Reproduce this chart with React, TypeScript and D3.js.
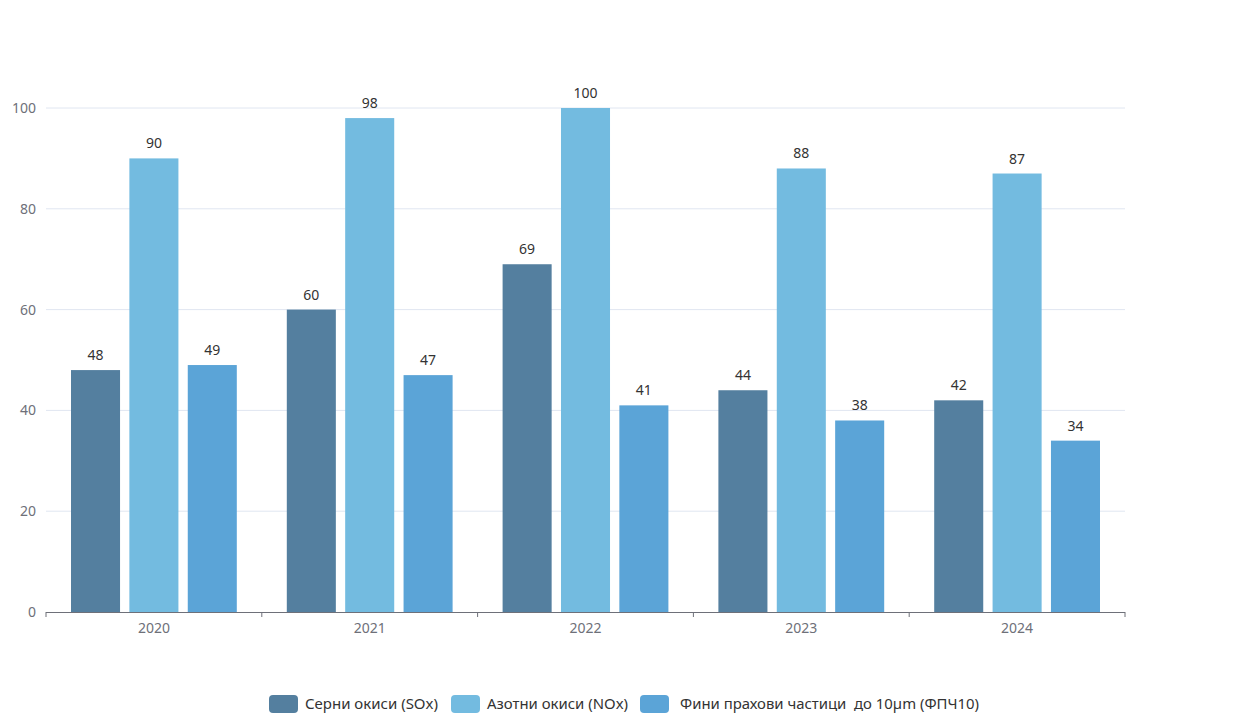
import React from 'react';
import * as d3 from 'd3';

const years = ['2020', '2021', '2022', '2023', '2024'];
const seriesNames = ['Серни окиси (SOx)', 'Азотни окиси (NOx)', 'Фини прахови частици  до 10µm (ФПЧ10)'];
const soxValues = [48, 60, 69, 44, 42];
const noxValues = [90, 98, 100, 88, 87];
const pmValues = [49, 47, 41, 38, 34];
const yTicks = [0, 20, 40, 60, 80, 100];
const colors = ['#547f9f', '#73bbe0', '#5ba4d7'];

const W = 1249;
const H = 720;
const margin = { top: 108, right: 124, bottom: 108, left: 46 };

const App: React.FC = () => {
  const innerW = W - margin.left - margin.right;
  const innerH = H - margin.top - margin.bottom;
  const series = [soxValues, noxValues, pmValues];

  const x0 = d3.scaleBand().domain(years).range([0, innerW]);
  const bw = x0.bandwidth();
  const x1 = d3.scaleBand<number>().domain([0, 1, 2]).range([25, bw - 25]).paddingInner(0.16);
  const y = d3.scaleLinear().domain([0, 100]).range([innerH, 0]);

  const font = 'Microsoft YaHei, "Noto Sans", sans-serif';

  // legend layout: icon x, text offset and text width per item
  const legendX = [269, 451, 640];
  const legendTextOffset = [36, 36, 40];
  const legendTextWidth = [133, 141, 299];

  return (
    <svg width={W} height={H} style={{ display: 'block', position: 'absolute', left: 0, top: 0 }} fontFamily={font}>
      <rect width={W} height={H} fill="#fff" />
      <g transform={`translate(${margin.left},${margin.top})`}>
        {yTicks.map(t => (
          <g key={t}>
            {t !== 0 && <line x1={0} x2={innerW} y1={y(t)} y2={y(t)} stroke="#e0e6f1" />}
            <text x={-10} y={y(t)} dy="0.35em" textAnchor="end" fontSize={14} fill="#6e7079">{t}</text>
          </g>
        ))}
        {years.map((yr, i) => (
          <g key={yr} transform={`translate(${x0(yr)},0)`}>
            {series.map((vals, s) => (
              <g key={s}>
                <rect x={x1(s)} y={y(vals[i])} width={x1.bandwidth()} height={innerH - y(vals[i])} fill={colors[s]} />
                <text x={(x1(s) as number) + x1.bandwidth() / 2} y={y(vals[i]) - 10} textAnchor="middle" fontSize={14} fill="#333">{vals[i]}</text>
              </g>
            ))}
            <text x={bw / 2} y={innerH + 21} textAnchor="middle" fontSize={14} fill="#6e7079">{yr}</text>
          </g>
        ))}
        <line x1={0} x2={innerW} y1={innerH + 0.5} y2={innerH + 0.5} stroke="#6e7079" />
        {d3.range(years.length + 1).map(i => (
          <line key={i} x1={i * bw} x2={i * bw} y1={innerH} y2={innerH + 5} stroke="#6e7079" />
        ))}
      </g>
      <g>
        {seriesNames.map((name, i) => (
          <g key={name} transform={`translate(${legendX[i]},704)`}>
            <rect x={0} y={-9} width={29} height={18} rx={4} fill={colors[i]} />
            <text
              x={legendTextOffset[i]}
              y={0}
              dy="0.35em"
              fontSize={15}
              fill="#333"
              textLength={legendTextWidth[i]}
              lengthAdjust="spacingAndGlyphs"
              style={{ whiteSpace: 'pre' }}
            >
              {name}
            </text>
          </g>
        ))}
      </g>
    </svg>
  );
};

export default App;
